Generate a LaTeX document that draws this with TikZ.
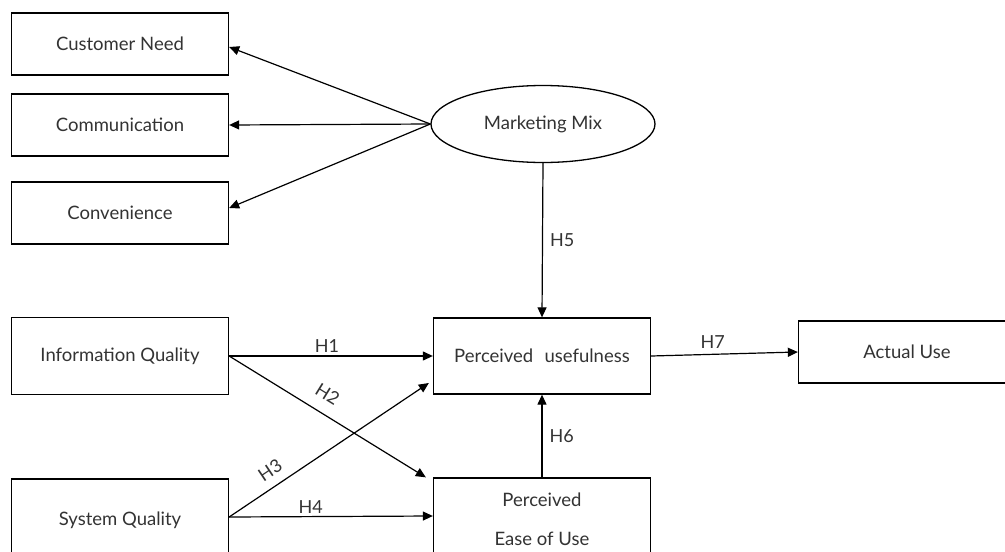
\documentclass[tikz,border=0pt]{standalone}
\usepackage{fontspec}
\setmainfont{Lato}
\usetikzlibrary{arrows.meta,shapes.geometric}
\definecolor{txt}{HTML}{333333}
\tikzset{
  box/.style={draw=black, line width=1.3pt, rectangle, minimum width=217pt,
    minimum height=62pt, inner sep=0pt, text=txt, align=center,
    font=\fontsize{18.5}{39}\selectfont},
  latent/.style={draw=black, line width=1.3pt, ellipse, minimum width=224pt,
    minimum height=77pt, inner sep=0pt, text=txt,
    font=\fontsize{18.5}{22}\selectfont},
  link/.style={line width=1.2pt, -{Triangle[length=10pt,width=9pt]}},
  hyp/.style={text=txt, font=\fontsize{18}{22}\selectfont, inner sep=3pt}
}
\begin{document}
\begin{tikzpicture}[x=1pt, y=-1pt]
\useasboundingbox (0,0) rectangle (1005,552);
\clip (0,0) rectangle (1005,552);
\fill[white] (0,0) rectangle (1005,552);

% measurement constructs of the marketing mix
\node[box] (cn) at (120,44) {Customer Need};
\node[box] (cm) at (120,125) {Communication};
\node[box] (cv) at (120,213) {Convenience};
\node[latent] (mm) at (543,124) {Marketing Mix};

% antecedents
\node[box, minimum height=77pt] (iq) at (120,356) {Information Quality};
\node[box, minimum height=82pt] (sq) at (120,520) {System Quality};

% TAM constructs
\node[box, minimum height=76pt] (pu) at (542,356) {Perceived\hspace{0.35em} usefulness};
\node[box, minimum height=82pt] (peu) at (542,519) {Perceived\\Ease of Use};
\node[box] (au) at (907,352) {Actual Use};

% indicator arrows
\draw[link] (mm.west) -- ([yshift=-3pt]cn.east);
\draw[link] (mm.west) -- (cm.east);
\draw[link] (mm.west) -- ([yshift=5pt]cv.east);

% hypotheses
\draw[link] (iq.east) -- node[hyp, above, pos=0.48] {H1} (pu.west);
\draw[link] (iq.east) -- node[hyp, sloped, above=9pt, pos=0.45] {H2} ([xshift=-7pt]peu.north west);
\draw[link] ([yshift=3pt]sq.east) -- node[hyp, sloped, above=6pt, pos=0.25] {H3} ([xshift=-4pt, yshift=-27pt]pu.west);
\draw[link] ([yshift=3pt]sq.east) -- node[hyp, above, pos=0.4] {H4} ([yshift=3pt]peu.west);
\draw[link] (mm.south) -- node[hyp, right, pos=0.5, xshift=4pt] {H5} (pu.north);
\draw[link] (peu.north) -- node[hyp, right, pos=0.5, xshift=4pt] {H6} (pu.south);
\draw[link] (pu.east) -- node[hyp, above, pos=0.42, yshift=2pt] {H7} (au.west);
\end{tikzpicture}
\end{document}
